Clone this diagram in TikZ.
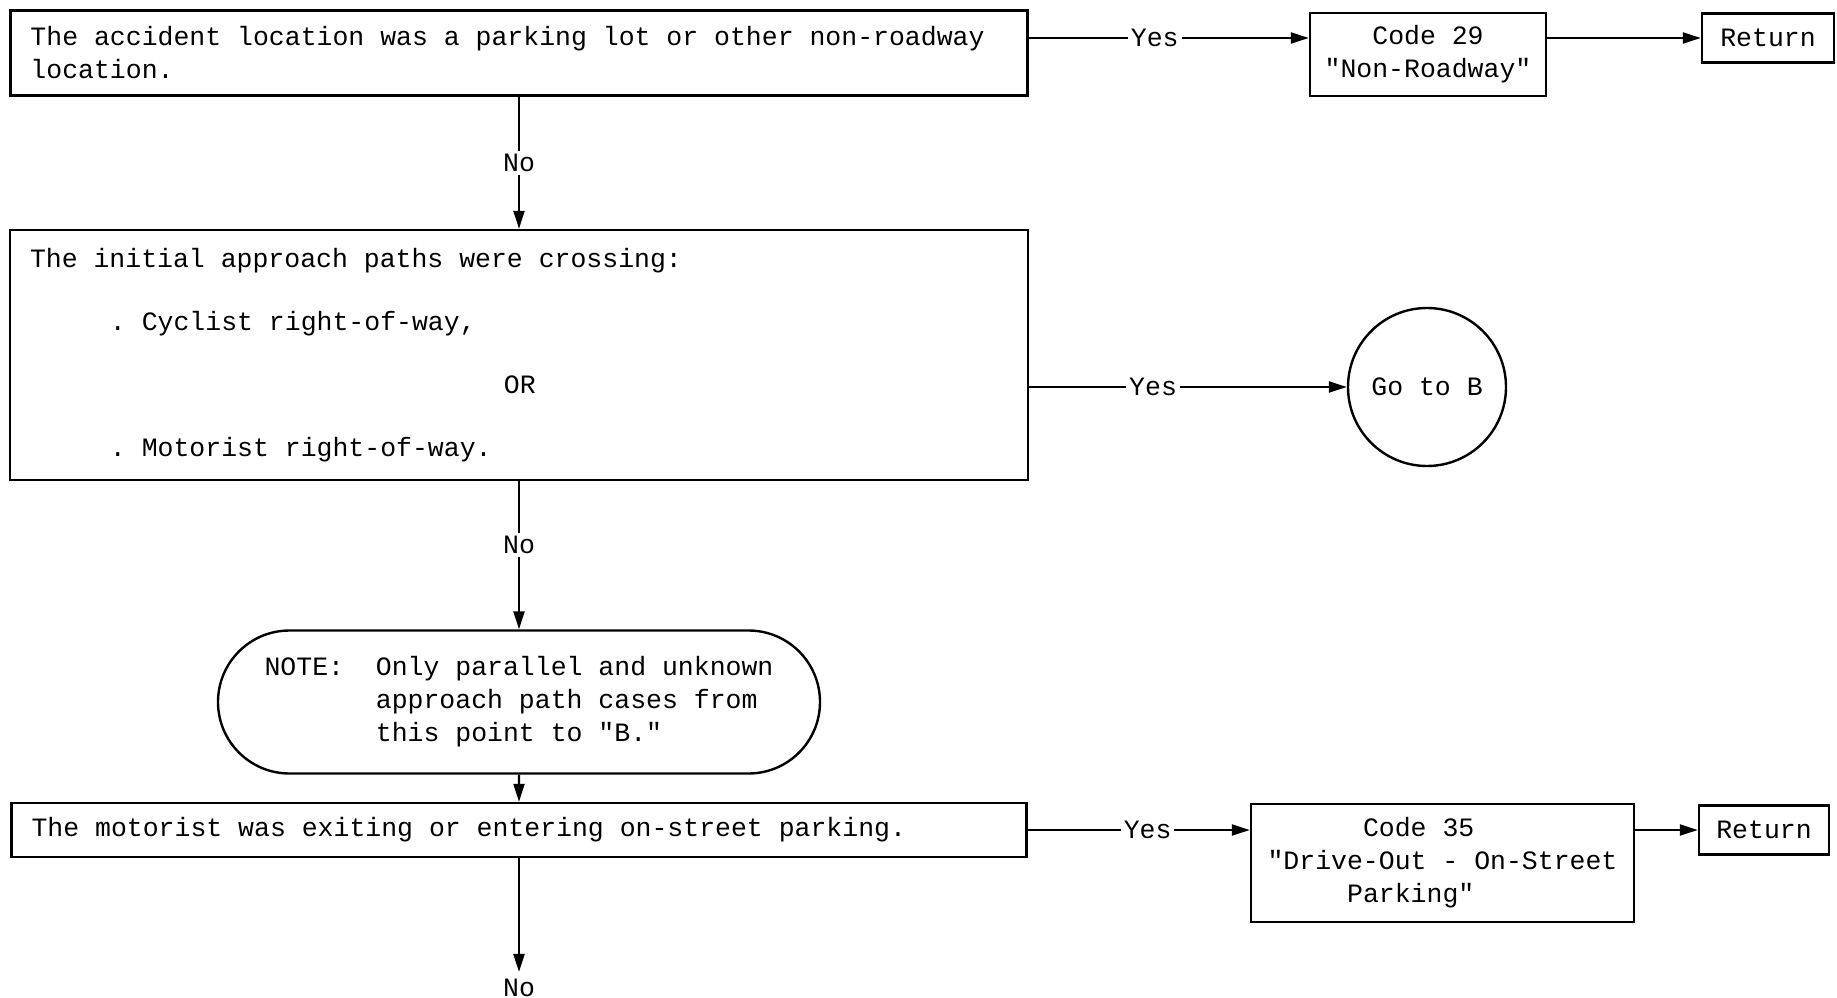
\documentclass[tikz,border=0pt]{standalone}
\usepackage{fontspec}
\newfontfamily\typewr{Liberation Mono}
\usetikzlibrary{arrows.meta,shapes.misc}
\tikzset{
    every node/.style={font=\typewr\fontsize{26.5}{33}\selectfont, inner sep=0pt}
}
\tikzset{
    box/.style={draw, rectangle, line width=2.4pt, inner xsep=20pt,
      execute at begin node={\spaceskip=0.6em\xspaceskip=0.6em\relax}},
    lbl/.style={fill=white, inner sep=3pt}
}
\tikzset{
    every edge/.append style={line width=2.2pt, -{Triangle[length=18pt,width=11pt]}}
}

\begin{document}
\begin{tikzpicture}[x=1pt, y=-1pt]
  \useasboundingbox (0,0) rectangle (1837,998);

  \node (b1) [box, align=left, text width=977pt, minimum height=85pt] at (519, 53)
    {The accident location was a parking lot or other non-roadway\\location.};
  \node (c29) [box, align=center, inner xsep=0pt, minimum width=236pt, minimum height=83pt] at (1428, 54.5)
    {Code 29\\"Non-Roadway"};
  \node (r1) [box, inner xsep=0pt, minimum width=132pt, minimum height=49pt] at (1768, 38) {Return};

  \node (b2) [box, align=left, text width=978pt, minimum height=250pt] at (519, 355)
    {The initial approach paths were crossing:\\[30pt]
     \hspace*{80pt}. Cyclist right-of-way,\\[30pt]
     \hspace*{474pt}OR\\[30pt]
     \hspace*{80pt}. Motorist right-of-way.};
  \node (goB) [circle, draw, line width=2.4pt, minimum size=158pt] at (1427, 387) {Go to B};

  \node (note) [rounded rectangle, draw, line width=2.4pt, align=left,
    minimum width=602pt, minimum height=143pt] at (519, 702)
    {NOTE:\ \ Only parallel and unknown\\
     \phantom{NOTE:\ \ }approach path cases from\\
     \phantom{NOTE:\ \ }this point to "B."};

  \node (b3) [box, align=left, text width=975pt, minimum height=54pt] at (519, 830)
    {The motorist was exiting or entering on-street parking.};
  \node (c35) [box, align=left, inner xsep=0pt, minimum width=383pt, minimum height=118pt] at (1442.5, 863)
    {\phantom{xxxxxx}Code 35\\"Drive-Out - On-Street\\\phantom{xxxxx}Parking"};
  \node (r2) [box, inner xsep=0pt, minimum width=130pt, minimum height=49pt] at (1764, 830) {Return};
  \node (no3) [inner sep=7pt] at (519, 988) {No};

  \draw (b1.east |- r1) edge node[lbl, pos=.45] {Yes} (c29.west |- r1);
  \draw (c29.east |- r1) edge (r1);
  \draw (b1) edge node[lbl] {No} (b2);
  \draw (b2.east |- goB) edge node[lbl, pos=.39] {Yes} (goB);
  \draw (b2) edge node[lbl, pos=.43] {No} (note);
  \draw (note) edge (b3);
  \draw (b3.east |- r2) edge node[lbl, pos=.54] {Yes} (c35.west |- r2);
  \draw (c35.east |- r2) edge (r2);
  \draw (b3) edge (no3);
\end{tikzpicture}
\end{document}
